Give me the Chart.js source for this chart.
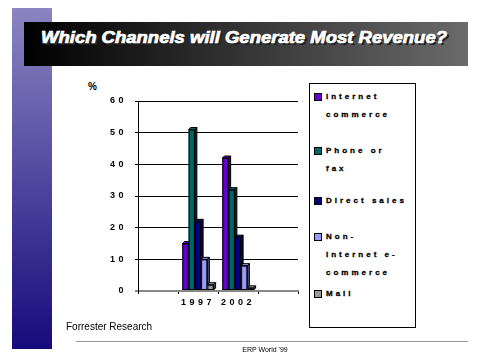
<!DOCTYPE html>
<html><head><meta charset="utf-8">
<script src="https://cdn.jsdelivr.net/npm/chart.js@4/dist/chart.umd.min.js"></script>
<style>
body{margin:0;width:480px;height:360px;background:#fff;position:relative;overflow:hidden;font-family:Arial,'Liberation Sans',sans-serif}
#side{position:absolute;left:12px;top:8px;width:40px;height:341px;background:linear-gradient(#8b85c1,#150b7c)}
#bar{position:absolute;left:24px;top:22px;width:444px;height:44px;background:linear-gradient(90deg,#000,#6a6a6a)}
#title{position:absolute;left:41px;top:29px;color:#fff;font:italic bold 16px Arial,'Liberation Sans',sans-serif;-webkit-text-stroke:0.7px #fff;text-shadow:2px 2px 0 #222;white-space:nowrap;transform-origin:0 0}
#pct{position:absolute;left:88px;top:81px;font:bold 10px Arial,'Liberation Sans',sans-serif}
#cv{position:absolute;left:0;top:0}
#legend{position:absolute;left:309px;top:83px;width:105px;height:243px;border:1px solid #000;background:#fff}
.li{position:absolute;left:0;width:105px}
.sw{position:absolute;left:4px;width:6px;height:6px;border:1px solid #000}
.lt{position:absolute;left:16px;font:bold 8px Arial,'Liberation Sans',sans-serif;-webkit-text-stroke:0.3px #000;letter-spacing:3px;line-height:18px;white-space:nowrap}
#src{position:absolute;left:66px;top:321px;font:10px Arial,'Liberation Sans',sans-serif}
#rule{position:absolute;left:76px;top:341px;width:392px;height:1px;background:#999}
#foot{position:absolute;left:200px;width:130px;top:346px;text-align:center;font:7px Arial,'Liberation Sans',sans-serif}
</style></head>
<body>
<div id="side"></div>
<div id="bar"></div>
<div id="title">Which Channels will Generate Most Revenue?</div>
<div id="pct">%</div>
<canvas id="cv" width="480" height="360"></canvas>
<div id="legend"></div>
<div id="src">Forrester Research</div>
<div id="rule"></div>
<div id="foot">ERP World '99</div>
<script>
const categories = ['', '1997', '2002', ''];
const internetCommerce = [null, 15, 42, null];
const phoneOrFax = [null, 51, 32, null];
const directSales = [null, 22, 17, null];
const nonInternetECommerce = [null, 10, 8, null];
const mail = [null, 2, 1, null];
const seriesNames = ['Internet commerce', 'Phone or fax', 'Direct sales', 'Non-Internet e-commerce', 'Mail'];
const legendLines = [['Internet', 'commerce'], ['Phone or', 'fax'], ['Direct sales'], ['Non-', 'Internet e-', 'commerce'], ['Mail']];
const yTickMin = 0, yTickMax = 60, yTickStep = 10;
const seriesColors = ['#6600cc', '#006666', '#000080', '#9999ff', '#999999'];
const sideColors = ['#33006a', '#003333', '#000040', '#4c4c80', '#4c4c4c'];
const seriesValues = [internetCommerce, phoneOrFax, directSales, nonInternetECommerce, mail];

const tt = document.getElementById('title');
tt.style.transform = 'scaleX(' + (406 / tt.getBoundingClientRect().width) + ')';

const lg = document.getElementById('legend');
const itemTops = [4, 58, 108, 144, 201];
seriesNames.forEach((n, i) => {
  const d = document.createElement('div');
  d.className = 'li'; d.style.top = itemTops[i] + 'px';
  const sw = document.createElement('div');
  sw.className = 'sw'; sw.style.top = '5px'; sw.style.background = seriesColors[i];
  const t = document.createElement('div');
  t.className = 'lt'; t.innerHTML = legendLines[i].join('<br>');
  d.title = n;
  d.appendChild(sw); d.appendChild(t); lg.appendChild(d);
});

const depth = 2;
const bars3d = {
  id: 'bars3d',
  beforeDraw(chart) { chart.ctx.letterSpacing = '3.5px'; },
  afterDatasetsDraw(chart) {
    const ctx = chart.ctx;
    ctx.save();
    ctx.letterSpacing = '0px';
    ctx.lineWidth = 1;
    ctx.strokeStyle = '#000';
    chart.data.datasets.forEach((ds, i) => {
      const meta = chart.getDatasetMeta(i);
      meta.data.forEach((el, j) => {
        if (ds.data[j] == null) return;
        const p = el.getProps(['x', 'y', 'base', 'width'], true);
        const l = p.x - p.width / 2, r = p.x + p.width / 2, t = p.y, b = p.base;
        ctx.fillStyle = seriesColors[i];
        ctx.fillRect(l, t, r - l, b - t);
        ctx.strokeRect(l + 0.5, t + 0.5, r - l - 1, b - t - 1);
        ctx.beginPath();
        ctx.moveTo(l, t); ctx.lineTo(l + depth, t - depth); ctx.lineTo(r + depth, t - depth); ctx.lineTo(r, t); ctx.closePath();
        ctx.fillStyle = seriesColors[i]; ctx.fill(); ctx.stroke();
        ctx.beginPath();
        ctx.moveTo(r, t); ctx.lineTo(r + depth, t - depth); ctx.lineTo(r + depth, b - depth); ctx.lineTo(r, b); ctx.closePath();
        ctx.fillStyle = sideColors[i]; ctx.fill(); ctx.stroke();
      });
    });
    ctx.restore();
  },
  afterDraw(chart) { chart.ctx.letterSpacing = '0px'; }
};

new Chart(document.getElementById('cv'), {
  type: 'bar',
  data: {
    labels: categories,
    datasets: seriesValues.map((v, i) => ({
      label: seriesNames[i], data: v, backgroundColor: seriesColors[i],
      borderColor: '#000', borderWidth: 1, categoryPercentage: 0.78, barPercentage: 1.0
    }))
  },
  options: {
    responsive: false, animation: false, devicePixelRatio: 1,
    layout: { padding: { left: 100, top: 101, right: 182, bottom: 0 } },
    plugins: { legend: { display: false }, tooltip: { enabled: false } },
    scales: {
      x: {
        offset: true,
        grid: { offset: true, drawOnChartArea: false, tickLength: 3, color: '#000' },
        border: { color: '#888', width: 2 },
        ticks: { autoSkip: false, maxRotation: 0, color: '#000', font: { family: 'Arial', size: 9, weight: 'bold' }, padding: 3 },
        afterFit(s) { s.height = 69; }
      },
      y: {
        min: yTickMin, max: yTickMax,
        ticks: { stepSize: yTickStep, color: '#000', font: { family: 'Arial', size: 9, weight: 'bold' }, padding: 8 },
        grid: { color: c => c.tick && c.tick.value === 0 ? '#888' : '#000', lineWidth: c => c.tick && c.tick.value === 0 ? 2 : 1, tickLength: 3 },
        border: { color: '#000', width: 1 },
        afterFit(s) { s.width = 38; }
      }
    }
  },
  plugins: [bars3d]
});
</script>
</body></html>
